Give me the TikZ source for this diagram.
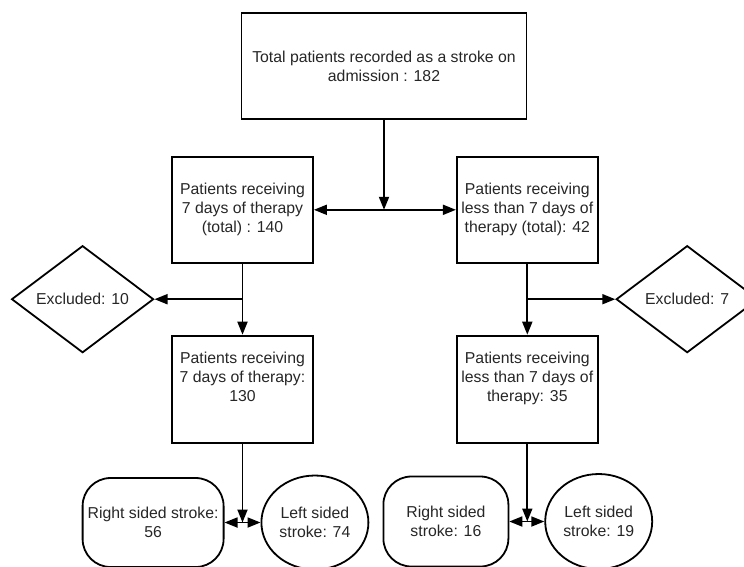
\documentclass[tikz,border=0pt]{standalone}
\usepackage{fontspec}
\setmainfont{Liberation Sans}
\usepackage{xcolor}
\usepackage{tikz}
\usetikzlibrary{positioning, shapes.geometric, arrows.meta}

\begin{document}
\begin{tikzpicture}[
    x=1pt, y=1pt,
    countbox/.style={rectangle, draw=black, line width=1.8pt, minimum width=141pt, minimum height=106pt, align=center, inner sep=2pt},
    excluded/.style={diamond, draw=black, line width=1.8pt, minimum width=142pt, minimum height=107pt, aspect=1.33, inner sep=0pt},
    sidebox/.style={rectangle, rounded corners=28pt, draw=black, line width=1.8pt, minimum width=141pt, minimum height=89pt, align=center, inner sep=1pt},
    sideround/.style={ellipse, draw=black, line width=1.8pt, minimum width=107pt, minimum height=94pt, align=center, inner sep=1pt},
    arr/.style={line width=1.8pt, -{Triangle[length=13pt, width=10pt]}},
    every node/.style={font=\fontsize{15.8}{19}\selectfont, text=black!85}
]
    \useasboundingbox (0,0) rectangle (744,-566);

    % Boxes
    \node[countbox, minimum width=285pt] (total) at (384,-66) {Total patients recorded as a stroke on\\admission : 182};
    \node[countbox] (tot7)    [below=36pt of total.south, xshift=-141.5pt] {Patients receiving\\7 days of therapy\\(total) : 140};
    \node[countbox] (totless) [right=142pt of tot7] {Patients receiving\\less than 7 days of\\therapy (total): 42};
    \node[countbox, minimum height=107pt] (sub7)    [below=71pt of tot7]    {Patients receiving\\7 days of therapy:\\130\\[6pt]};
    \node[countbox, minimum height=107pt] (subless) [below=71pt of totless] {Patients receiving\\less than 7 days of\\therapy: 35\\[6pt]};

    % Junctions
    \coordinate (jtop) at (total.south |- tot7.east);
    \coordinate[below=35.5pt of tot7.south]    (jleft);
    \coordinate[below=35.5pt of totless.south] (jright);
    \coordinate[below=79pt of sub7.south]      (jsub7);
    \coordinate[below=78pt of subless.south]   (jsubless);

    % Excluded
    \node[excluded] (exl) [left=88pt of jleft]   {Excluded: 10};
    \node[excluded] (exr) [right=88pt of jright] {Excluded: 7};

    % Stroke side
    \node[sidebox] (right7)  [left=18pt of jsub7]  {Right sided stroke:\\56};
    \node[sideround] (left7) [right=18pt of jsub7] {Left sided\\stroke: 74};
    \node[sidebox, minimum width=125pt, minimum height=90pt] (rightless) [left=18pt of jsubless] {Right sided\\stroke: 16};
    \node[sideround, minimum height=95pt] (leftless) [right=17pt of jsubless] {Left sided\\stroke: 19};

    % Edges
    \draw[arr] (total) -- (jtop);
    \draw[arr] (jtop) -- (tot7);
    \draw[arr] (jtop) -- (totless);

    \draw[arr] (tot7) -- (sub7);
    \draw[arr] (jleft) -- (exl);
    \draw[arr] (totless) -- (subless);
    \draw[arr] (jright) -- (exr);

    \draw[arr] (sub7) -- (jsub7);
    \draw[arr] (jsub7) -- (right7);
    \draw[arr] (jsub7) -- (left7);
    \draw[arr] (subless) -- (jsubless);
    \draw[arr] (jsubless) -- (rightless);
    \draw[arr] (jsubless) -- (leftless);

\end{tikzpicture}
\end{document}
